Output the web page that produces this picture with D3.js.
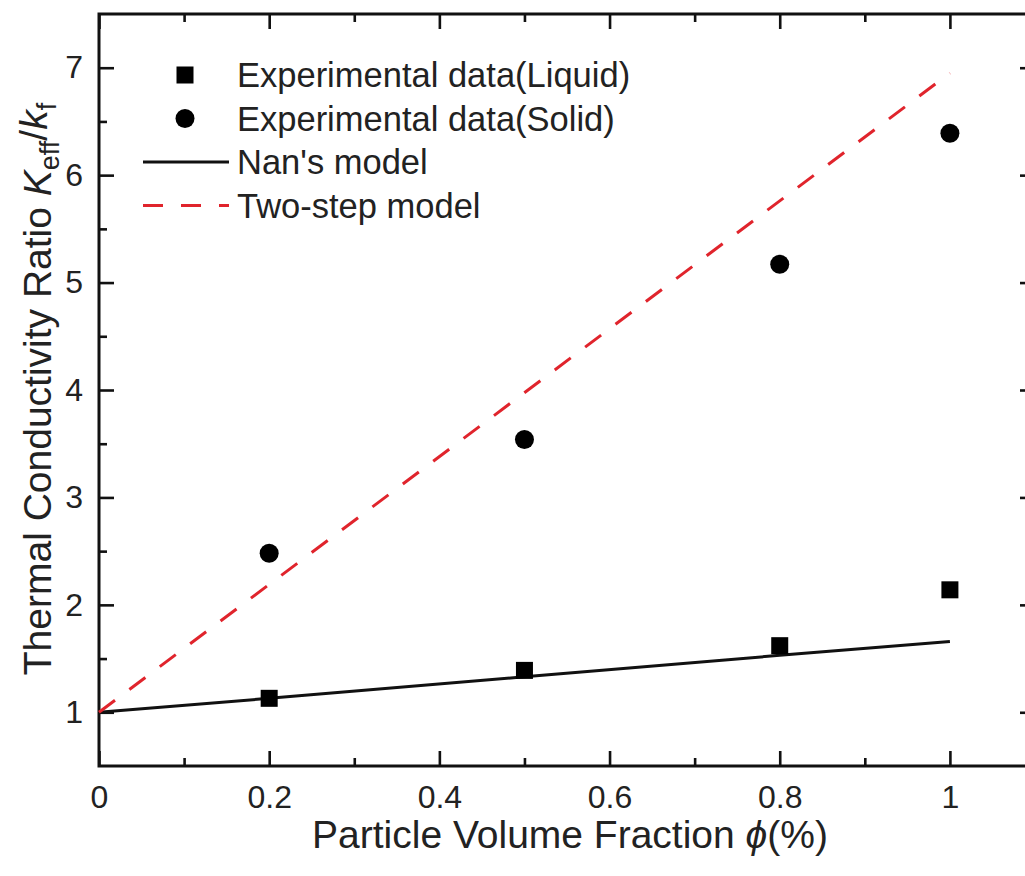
<!DOCTYPE html>
<html>
<head>
<meta charset="utf-8">
<script src="https://cdn.jsdelivr.net/npm/d3@7"></script>
<style>
  html, body { margin: 0; padding: 0; background: #fff; }
  svg { display: block; font-family: "Liberation Sans", Arial, sans-serif; }
</style>
</head>
<body>
<svg id="chart" width="1025" height="876"></svg>
<script>
// ---- data ----
const phiLiquid = [0.2, 0.5, 0.8, 1.0];
const kLiquid   = [1.13, 1.39, 1.62, 2.14];
const phiSolid  = [0.2, 0.5, 0.8, 1.0];
const kSolid    = [2.48, 3.54, 5.17, 6.39];
const phiNan    = [0, 0.2, 0.5, 0.8, 1.0];
const kNan      = [1.0, 1.13, 1.33, 1.53, 1.66];
const phiTwo    = [0, 1.0];
const kTwo      = [1.0, 6.95];
const xMajorTicks = [0, 0.2, 0.4, 0.6, 0.8, 1.0];
const xMinorTicks = [0.1, 0.3, 0.5, 0.7, 0.9, 1.1];
const yMajorTicks = [1, 2, 3, 4, 5, 6, 7];
const yMinorTicks = [1.5, 2.5, 3.5, 4.5, 5.5, 6.5];
const legendLabels = ["Experimental data(Liquid)", "Experimental data(Solid)", "Nan's model", "Two-step model"];

// ---- layout ----
const svg = d3.select("#chart");
const L = 99, R = 1035, T = 14, B = 766;
const x = d3.scaleLinear().domain([0, 1.1]).range([L, R]);
const y = d3.scaleLinear().domain([0.5, 7.5]).range([B, T]);
const fmt = d => d3.format("~g")(d);
const MAJ = 15, MIN = 8;
const TICKFONT = 32;

function styleAxis(g) {
  g.select(".domain").remove();
  g.selectAll(".tick line").attr("stroke", "#111").attr("stroke-width", 2.6);
  g.selectAll(".tick text").attr("fill", "#222").attr("font-size", TICKFONT)
    .attr("font-family", "Liberation Sans, Arial, sans-serif");
}

// bottom
svg.append("g").attr("transform", `translate(0,${B})`)
  .call(d3.axisBottom(x).tickValues(xMajorTicks).tickFormat(fmt).tickSizeInner(-MAJ).tickSizeOuter(0).tickPadding(19))
  .call(styleAxis).selectAll(".tick text").attr("dy", "0.71em");
svg.append("g").attr("transform", `translate(0,${B})`)
  .call(d3.axisBottom(x).tickValues(xMinorTicks).tickFormat("").tickSizeInner(-MIN).tickSizeOuter(0))
  .call(styleAxis);
// top
svg.append("g").attr("transform", `translate(0,${T})`)
  .call(d3.axisTop(x).tickValues(xMajorTicks).tickFormat("").tickSizeInner(-MAJ).tickSizeOuter(0))
  .call(styleAxis);
svg.append("g").attr("transform", `translate(0,${T})`)
  .call(d3.axisTop(x).tickValues(xMinorTicks).tickFormat("").tickSizeInner(-MIN).tickSizeOuter(0))
  .call(styleAxis);
// left
svg.append("g").attr("transform", `translate(${L},0)`)
  .call(d3.axisLeft(y).tickValues(yMajorTicks).tickFormat(fmt).tickSizeInner(-MAJ).tickSizeOuter(0).tickPadding(16))
  .call(styleAxis);
svg.append("g").attr("transform", `translate(${L},0)`)
  .call(d3.axisLeft(y).tickValues(yMinorTicks).tickFormat("").tickSizeInner(-MIN).tickSizeOuter(0))
  .call(styleAxis);
// right
svg.append("g").attr("transform", `translate(${R},0)`)
  .call(d3.axisRight(y).tickValues(yMajorTicks).tickFormat("").tickSizeInner(-MAJ).tickSizeOuter(0))
  .call(styleAxis);
svg.append("g").attr("transform", `translate(${R},0)`)
  .call(d3.axisRight(y).tickValues(yMinorTicks).tickFormat("").tickSizeInner(-MIN).tickSizeOuter(0))
  .call(styleAxis);

// frame
svg.append("rect").attr("x", L).attr("y", T).attr("width", R - L).attr("height", B - T)
  .attr("fill", "none").attr("stroke", "#111").attr("stroke-width", 3);

// lines
const line = d3.line().x(d => x(d[0])).y(d => y(d[1]));
svg.append("path").datum(phiNan.map((p, i) => [p, kNan[i]]))
  .attr("d", line).attr("fill", "none").attr("stroke", "#111").attr("stroke-width", 3);
svg.append("path").datum(phiTwo.map((p, i) => [p, kTwo[i]]))
  .attr("d", line).attr("fill", "none").attr("stroke", "#e0242c").attr("stroke-width", 3)
  .attr("stroke-dasharray", "20,18");

// markers
const S = 17;
svg.append("g").selectAll("rect").data(phiLiquid.map((p, i) => [p, kLiquid[i]])).join("rect")
  .attr("x", d => x(d[0]) - S / 2).attr("y", d => y(d[1]) - S / 2)
  .attr("width", S).attr("height", S).attr("fill", "#000");
svg.append("g").selectAll("circle").data(phiSolid.map((p, i) => [p, kSolid[i]])).join("circle")
  .attr("cx", d => x(d[0])).attr("cy", d => y(d[1])).attr("r", 9.5).attr("fill", "#000");

// legend
const lg = svg.append("g");
const lx = 237, ly0 = 75, ldy = 43.5, symX = 185;
legendLabels.forEach((t, i) => {
  lg.append("text").attr("x", lx).attr("y", ly0 + i * ldy).attr("dy", "0.36em")
    .attr("font-size", 34.5).attr("fill", "#222").text(t);
});
lg.append("rect").attr("x", symX - S / 2).attr("y", ly0 - S / 2).attr("width", S).attr("height", S).attr("fill", "#000");
lg.append("circle").attr("cx", symX).attr("cy", ly0 + ldy).attr("r", 9.5).attr("fill", "#000");
lg.append("line").attr("x1", 143).attr("x2", 229).attr("y1", ly0 + 2 * ldy).attr("y2", ly0 + 2 * ldy)
  .attr("stroke", "#111").attr("stroke-width", 3);
lg.append("line").attr("x1", 143).attr("x2", 229).attr("y1", ly0 + 3 * ldy).attr("y2", ly0 + 3 * ldy)
  .attr("stroke", "#e0242c").attr("stroke-width", 3).attr("stroke-dasharray", "20,18");

// x title
const xt = svg.append("text").attr("x", 570).attr("y", 834).attr("dy", "0.36em")
  .attr("text-anchor", "middle").attr("font-size", 39).attr("fill", "#222");
xt.append("tspan").text("Particle Volume Fraction ");
xt.append("tspan").attr("font-style", "italic").text("\u03d5");
xt.append("tspan").text("(%)");

// y title
const yt = svg.append("text").attr("transform", `translate(37,389) rotate(-90)`)
  .attr("dy", "0.36em").attr("text-anchor", "middle").attr("font-size", 39).attr("fill", "#222");
yt.append("tspan").text("Thermal Conductivity Ratio ");
yt.append("tspan").attr("font-style", "italic").text("K");
yt.append("tspan").attr("font-size", 27).attr("dy", "0.3em").text("eff");
yt.append("tspan").attr("dy", "-0.3em").text("/");
yt.append("tspan").attr("font-style", "italic").text("k");
yt.append("tspan").attr("font-size", 27).attr("dy", "0.3em").text("f");
</script>
</body>
</html>
